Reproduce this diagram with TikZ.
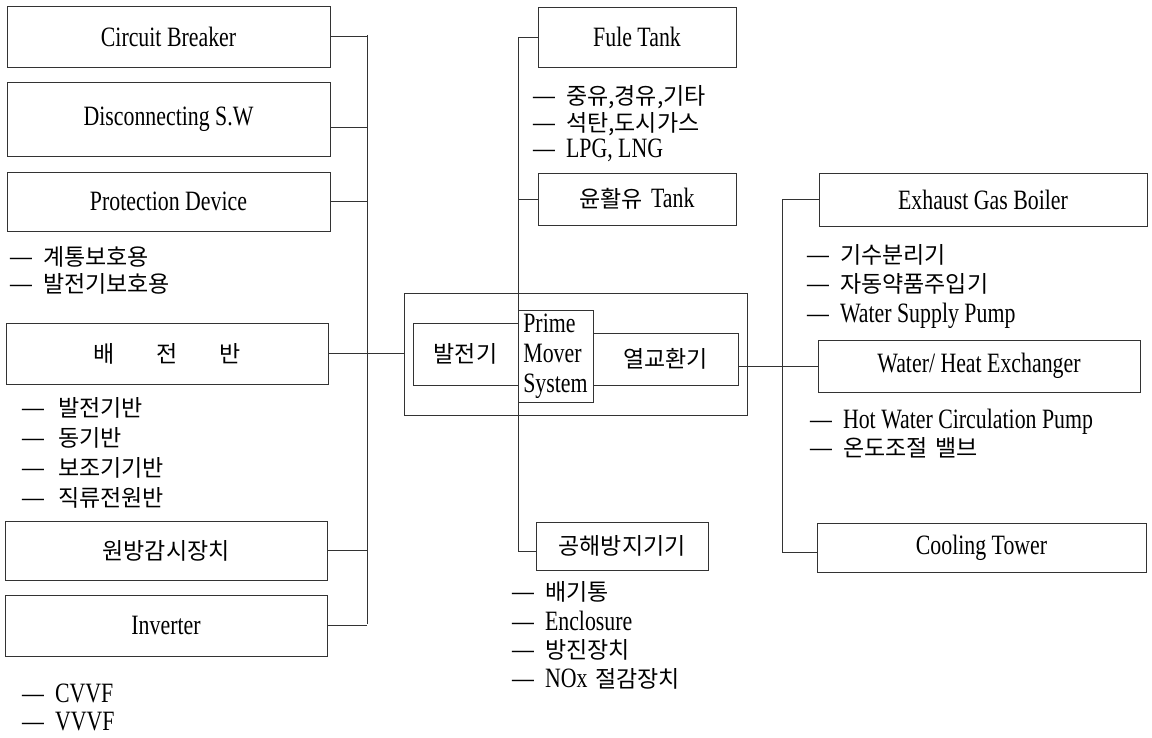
\documentclass[tikz,border=0pt]{standalone}
\usepackage{fontspec}
\setmainfont[FakeStretch=0.78]{Liberation Serif}
\newfontfamily\krf{Noto Sans CJK KR}
\newcommand{\kr}[1]{{\krf\fontsize{23}{27}\selectfont #1}}
\newcommand{\latf}{\fontsize{28}{30}\selectfont}
\newcommand{\dsh}{—\hspace{11pt}}
\begin{document}
\begin{tikzpicture}[x=1pt,y=-1pt,
  box/.style={draw=black!80, line width=0.9pt, rectangle, inner sep=0pt, font=\latf},
  conn/.style={draw=black!80, line width=0.9pt},
  item/.style={anchor=west, inner sep=0pt, font=\latf}]
\useasboundingbox (0,0) rectangle (1152,737);

% left boxes
\node[box, minimum width=323, minimum height=61] (cb) at (168.5,36.5) {Circuit Breaker};
\node[box, minimum width=323, minimum height=74] (ds) at (168.5,119) {Disconnecting S.W};
\node[box, minimum width=323, minimum height=59] (pd) at (168.5,201.5) {Protection Device};
\node[box, minimum width=322, minimum height=61] (bjb) at (167,353.5) {\kr{배\hspace{42pt}전\hspace{42pt}반}};
\node[box, minimum width=322, minimum height=59] (wb) at (166,550.5) {\kr{원방감시장치}};
\node[box, minimum width=322, minimum height=61] (inv) at (166,625.5) {Inverter};

% left items
\node[item] (i1) at (10,257) {\dsh\kr{계통보호용}};
\node[item] (i2) at (10,284) {\dsh\kr{발전기보호용}};
\node[item] (i3) at (22,408) {\dsh\hspace{3pt}\kr{발전기반}};
\node[item] (i4) at (22,438) {\dsh\hspace{3pt}\kr{동기반}};
\node[item] (i5) at (22,468) {\dsh\hspace{3pt}\kr{보조기기반}};
\node[item] (i6) at (22,498) {\dsh\hspace{3pt}\kr{직류전원반}};
\node[item] (i7) at (22,693) {\dsh CVVF};
\node[item] (i8) at (22,722) {\dsh VVVF};

% left bus
\coordinate (lbT) at (367,35);
\coordinate (lbB) at (367,624);
\draw[conn] (lbT) -- (lbB);
\draw[conn] (cb.east) -- (cb.east -| lbT);
\draw[conn] ([yshift=-8pt]ds.east) -- ([yshift=-8pt]ds.east -| lbT);
\draw[conn] (pd.east) -- (pd.east -| lbT);
\draw[conn] (wb.east) -- (wb.east -| lbT);
\draw[conn] (inv.east) -- (inv.east -| lbT);

% center system
\node[box, minimum width=343, minimum height=122] (outer) at (575.5,354) {};
\node[box, minimum width=105, minimum height=62] (gen) at (465.5,354) {\kr{발전기}};
\node[box, minimum width=75, minimum height=92, align=left] (pms) at (555.5,356) {Prime\\Mover\\System};
\node[box, minimum width=145, minimum height=52] (heat) at (665.5,359) {\kr{열교환기}};
\draw[conn] (bjb.east) -- (bjb.east -| outer.west);

% center column
\node[box, minimum width=198, minimum height=60] (fuel) at (637,37) {Fule Tank};
\node[box, minimum width=198, minimum height=52] (lub) at (637,199) {\kr{윤활유}\hspace{8pt}Tank};
\node[box, minimum width=172, minimum height=48] (pol) at (622,546) {\kr{공해방지기기}};
\coordinate (cB) at (518,551);
\draw[conn] (fuel.west) -| (cB) -- (cB -| pol.west);
\draw[conn] (lub.west) -- (lub.west -| cB);

\node[item] (f1) at (533,97) {\dsh\kr{중유,경유,기타}};
\node[item] (f2) at (533,124) {\dsh\kr{석탄,도시가스}};
\node[item] (f3) at (533,150) {\dsh LPG, LNG};

\node[item] (p1) at (512,592) {\dsh\kr{배기통}};
\node[item] (p2) at (512,621) {\dsh Enclosure};
\node[item] (p3) at (512,650) {\dsh\kr{방진장치}};
\node[item] (p4) at (512,679) {\dsh NOx\hspace{8pt}\kr{절감장치}};

% right column
\node[box, minimum width=328, minimum height=53] (eb) at (983,199.5) {Exhaust Gas Boiler};
\node[box, minimum width=322, minimum height=52] (whe) at (979,366) {Water/ Heat Exchanger};
\node[box, minimum width=329, minimum height=49] (ct) at (981.5,547.5) {Cooling Tower};
\coordinate (rB) at (782,552);
\draw[conn] (eb.west) -| (rB) -- (rB -| ct.west);
\draw[conn] (whe.west) -- (whe.west -| heat.east);

\node[item] (e1) at (807,255) {\dsh\kr{기수분리기}};
\node[item] (e2) at (807,284) {\dsh\kr{자동약품주입기}};
\node[item] (e3) at (807,316) {\dsh Water Supply Pump};
\node[item] (w1) at (810,422) {\dsh Hot Water Circulation Pump};
\node[item] (w2) at (810,448) {\dsh\kr{온도조절\hspace{8pt}밸브}};
\end{tikzpicture}
\end{document}
